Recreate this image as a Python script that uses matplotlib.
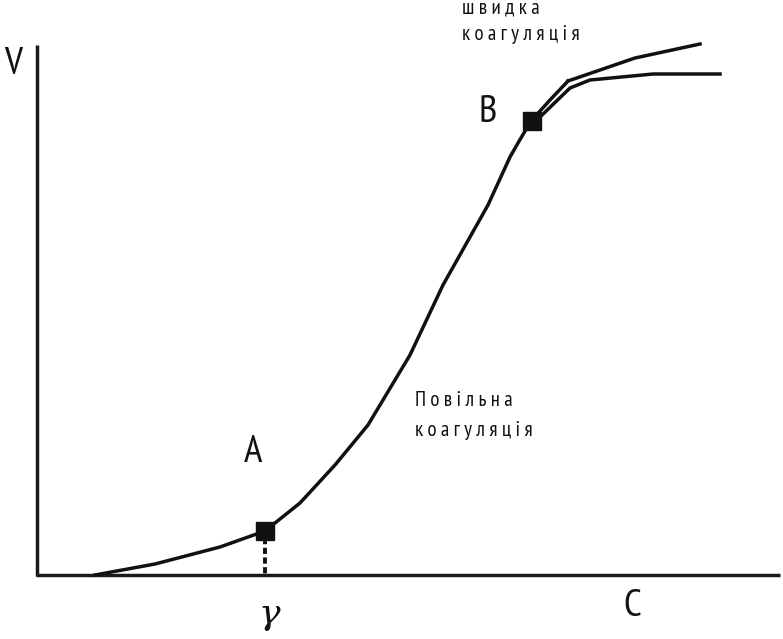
import matplotlib
matplotlib.use("Agg")
import matplotlib.pyplot as plt

# curve (pixel-like units, y grows downward)
main_x = [95, 155, 220, 265, 300, 335, 368, 410, 443, 488, 510, 518, 531, 550, 568]
main_y = [575, 564, 547, 531, 503, 465, 425, 355, 285, 205, 157, 143, 121, 100, 81]
fast_x = [568, 635, 700]
fast_y = [81, 58, 44]
slow_x = [531, 540, 570, 590, 653, 720]
slow_y = [121, 117, 88, 80, 74, 74]
point_x = [265, 532]
point_y = [531, 121]

fam = ["PT Sans Narrow", "Roboto Condensed", "DejaVu Sans"]

fig = plt.figure(figsize=(7.83, 6.39), dpi=100)
ax = fig.add_axes([0, 0, 1, 1])
ax.set_xlim(0, 783)
ax.set_ylim(639, 0)
ax.axis("off")

lw = 2.5
ax.plot([37, 37], [45, 576], color="#1a1a1a", lw=lw, solid_capstyle="butt")
ax.plot([36, 780], [575, 575], color="#1a1a1a", lw=lw, solid_capstyle="butt")

ax.plot(main_x, main_y, color="#111111", lw=lw, solid_joinstyle="round")
ax.plot(fast_x, fast_y, color="#111111", lw=lw, solid_joinstyle="round")
ax.plot(slow_x, slow_y, color="#111111", lw=lw, solid_joinstyle="round")
ax.plot([point_x[0], point_x[0]], [point_y[0] + 7, 575], color="#111111", lw=2.8,
        ls=(0, (1.6, 0.9)), dash_capstyle="butt")
ax.plot(point_x, point_y, "s", color="#111111", ms=13)

big = dict(family=fam, fontsize=28, color="#111111")
small = dict(family=fam, fontsize=15, color="#111111")
ax.text(4, 65, "V", va="center", ha="left", **big)
ax.text(253, 452, "A", va="center", ha="center", **big)
ax.text(488, 113, "B", va="center", ha="center", **big)
ax.text(269, 624, "γ", va="baseline", ha="center", family="DejaVu Serif",
        style="italic", fontsize=26, color="#111111")
ax.text(632, 607, "C", va="center", ha="center", **big)
ax.text(462, 8, "ш в и д к а", va="center", ha="left", **small)
ax.text(462, 34, "к о а г у л я ц і я", va="center", ha="left", **small)
ax.text(415, 400, "П о в і л ь н а", va="center", ha="left", **small)
ax.text(415, 431, "к о а г у л я ц і я", va="center", ha="left", **small)

fig.savefig("out.png", dpi=100)
